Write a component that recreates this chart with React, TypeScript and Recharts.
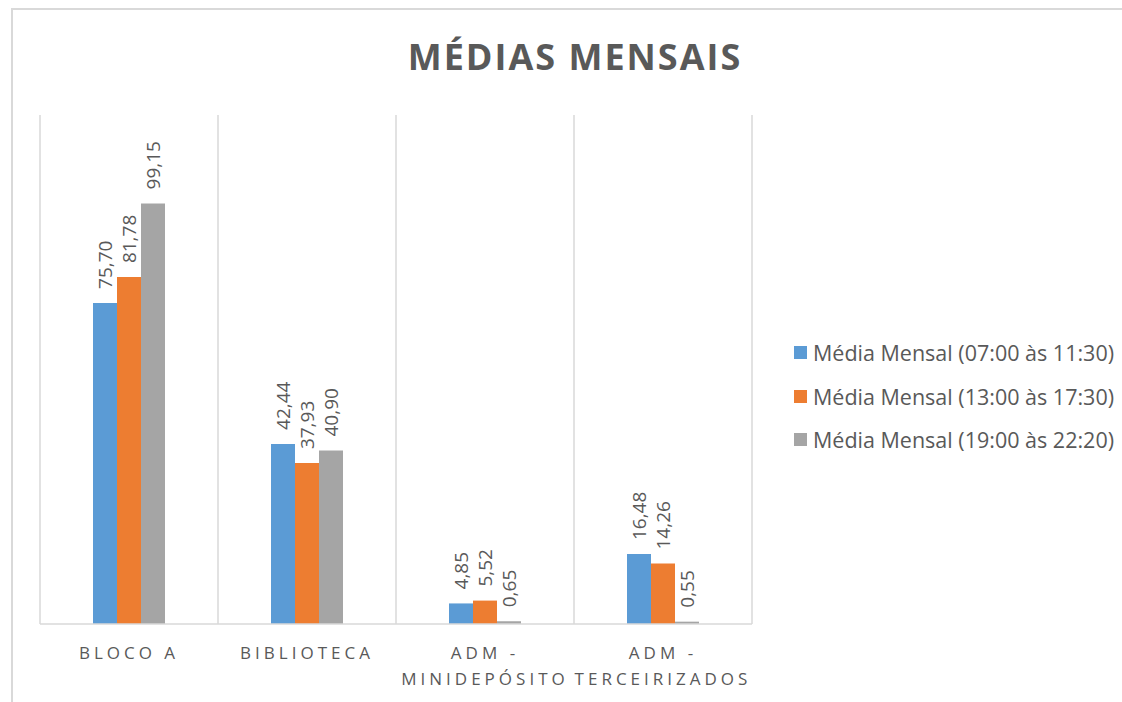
import { BarChart, Bar, XAxis, YAxis, CartesianGrid, LabelList } from 'recharts'

// dados
const categorias = ['BLOCO A', 'BIBLIOTECA', 'ADM - MINIDEPÓSITO', 'ADM - TERCEIRIZADOS']
const manha = [75.7, 42.44, 4.85, 16.48]
const tarde = [81.78, 37.93, 5.52, 14.26]
const noite = [99.15, 40.9, 0.65, 0.55]

const series = [
  { key: 'manha', name: 'Média Mensal (07:00 às 11:30)', color: '#5B9BD5' },
  { key: 'tarde', name: 'Média Mensal (13:00 às 17:30)', color: '#ED7D31' },
  { key: 'noite', name: 'Média Mensal (19:00 às 22:20)', color: '#A5A5A5' },
]

const dados = categorias.map((nome, i) => ({
  nome,
  manha: manha[i],
  tarde: tarde[i],
  noite: noite[i],
}))

const FONT = '"Open Sans", sans-serif'
const TEXT = '#595959'
const GRID = '#d9d9d9'

const fmt = (v: number) => v.toFixed(2).replace('.', ',')

// rótulo vertical acima da barra
function RotuloVertical(props: any) {
  const { x, y, width, value } = props
  const cx = x + width / 2 + 7
  const cy = y - 14
  return (
    <text
      x={cx}
      y={cy}
      transform={`rotate(-90 ${cx} ${cy})`}
      textAnchor="start"
      fill={TEXT}
      style={{ fontSize: 19, fontFamily: FONT }}
    >
      {fmt(Number(value))}
    </text>
  )
}

// categoria do eixo X, quebra "ADM - ..." em duas linhas
function TickCategoria(props: any) {
  const { x, y, payload } = props
  const nome: string = payload.value
  const linhas = nome.includes(' - ')
    ? [nome.split(' - ')[0] + ' -', nome.split(' - ')[1]]
    : [nome]
  return (
    <text
      x={x}
      y={y}
      textAnchor="middle"
      fill={TEXT}
      style={{ fontSize: 17, fontFamily: FONT, letterSpacing: 4 }}
    >
      {linhas.map((l, i) => (
        <tspan key={i} x={x} y={y + 27 + i * 26}>
          {l}
        </tspan>
      ))}
    </text>
  )
}

export default function App() {
  return (
    <div
      style={{
        position: 'absolute', left: 0, top: 0, width: 1122, height: 702,
        overflow: 'hidden', background: '#fff', fontFamily: FONT,
      }}
    >
      {/* moldura do gráfico */}
      <div
        style={{
          position: 'absolute', left: 11, top: 8, width: 1200, height: 800,
          border: `2px solid ${GRID}`,
        }}
      />

      <div
        style={{
          position: 'absolute', left: 0, top: 39, width: 1150, textAlign: 'center',
          fontSize: 36, lineHeight: '36px', fontWeight: 700, letterSpacing: 2, color: TEXT,
        }}
      >
        MÉDIAS MENSAIS
      </div>

      <div style={{ position: 'absolute', left: 0, top: 0 }}>
        <BarChart
          width={1122}
          height={702}
          data={dados}
          margin={{ top: 115, right: 370, bottom: 0, left: 40 }}
          barGap={0}
        >
          <CartesianGrid
            horizontal={false}
            stroke={GRID}
            strokeWidth={1.5}
            verticalCoordinatesGenerator={({ offset }: any) =>
              categorias.map((_, i) => offset.left + (i * offset.width) / categorias.length)
                .concat(offset.left + offset.width)
            }
          />
          <XAxis
            dataKey="nome"
            height={78}
            interval={0}
            tickLine={false}
            axisLine={{ stroke: GRID, strokeWidth: 1.5 }}
            tick={<TickCategoria />}
          />
          <YAxis hide domain={[0, 120]} />
          {series.map((s) => (
            <Bar
              key={s.key}
              dataKey={s.key}
              name={s.name}
              fill={s.color}
              barSize={24}
              isAnimationActive={false}
            >
              <LabelList dataKey={s.key} content={<RotuloVertical />} />
            </Bar>
          ))}
        </BarChart>
      </div>

      {/* legenda */}
      <div style={{ position: 'absolute', left: 794, top: 331 }}>
        {series.map((s) => (
          <div
            key={s.key}
            style={{
              display: 'flex', alignItems: 'center', height: 43.5,
              fontSize: 21.5, color: TEXT, whiteSpace: 'nowrap',
            }}
          >
            <span style={{ width: 13, height: 13, background: s.color, marginRight: 6 }} />
            {s.name}
          </div>
        ))}
      </div>
    </div>
  )
}
